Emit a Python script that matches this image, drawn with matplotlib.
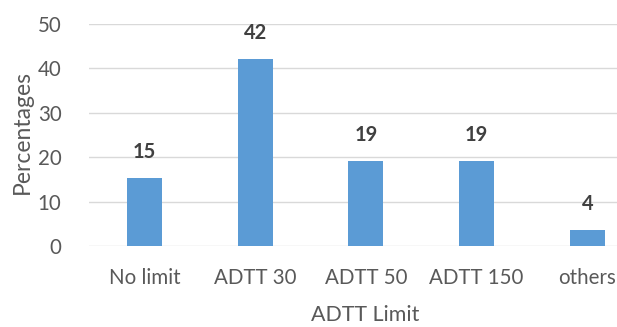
import matplotlib
matplotlib.use("Agg")
import matplotlib.pyplot as plt

categories = ["No limit", "ADTT 30", "ADTT 50", "ADTT 150", "others"]
percentages = [15.4, 42.2, 19.2, 19.2, 3.7]
y_ticks = [0, 10, 20, 30, 40, 50]

plt.rcParams["font.family"] = ["Lato", "DejaVu Sans"]

fig = plt.figure(figsize=(6.17, 3.27), dpi=100)
ax = fig.add_axes([0.1446, 0.2477, 0.897, 0.6789])

x = range(len(categories))
ax.bar(x, percentages, width=0.316, color="#5b9bd5", zorder=3)

for xi, v in zip(x, percentages):
    ax.annotate(f"{round(v)}", (xi, v), xytext=(0, 18.5), textcoords="offset points",
                ha="center", va="center", fontsize=14.5, fontweight="bold",
                color="#404040")

ax.set_xlim(-0.5, len(categories) - 0.5)
ax.set_ylim(0, 50)
ax.set_yticks(y_ticks)
ax.set_xticks(list(x))
ax.set_xticklabels(categories)
ax.tick_params(axis="both", length=0, labelsize=14.8, colors="#595959")
ax.tick_params(axis="x", pad=16)
ax.tick_params(axis="y", pad=20)
ax.grid(axis="y", color="#d9d9d9", linewidth=1, zorder=0)
for s in ax.spines.values():
    s.set_visible(False)

ax.set_xlabel("ADTT Limit", fontsize=15.4, color="#595959", va="center")
ax.set_ylabel("Percentages", fontsize=16.5, color="#595959", va="center")
ax.xaxis.set_label_coords(0.498, -0.311)
ax.yaxis.set_label_coords(-0.121, 0.513)

fig.savefig("out.png", dpi=100)
